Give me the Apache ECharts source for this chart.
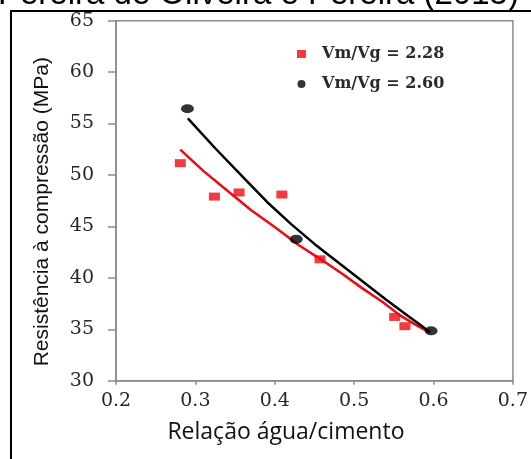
<!DOCTYPE html>
<html>
<head>
<meta charset="utf-8">
<script src="https://cdn.jsdelivr.net/npm/echarts@6/dist/echarts.min.js"></script>
<style>
html,body{margin:0;padding:0;background:#fff;}
#chart{width:531px;height:459px;}
</style>
</head>
<body>
<div id="chart"></div>
<script>
// ---- data ----
var titleText = 'Pereira de Oliveira e Pereira (2015)';
var xAxisTitle = 'Relação água/cimento';
var yAxisTitle = 'Resistência à compressão (MPa)';
var seriesNames = ['Vm/Vg = 2.28', 'Vm/Vg = 2.60'];

var redX = [0.281, 0.324, 0.355, 0.409, 0.457, 0.551, 0.564];
var redY = [51.15, 47.9, 48.3, 48.1, 41.8, 36.2, 35.3];

var blackX = [0.290, 0.427, 0.597];
var blackY = [56.45, 43.75, 34.85];

// fitted trend curves
var redFitX = [0.281, 0.310, 0.340, 0.370, 0.4025, 0.430, 0.458, 0.485, 0.510, 0.535, 0.557, 0.576, 0.595];
var redFitY = [52.46, 50.4, 48.5, 46.6, 44.8, 43.2, 41.8, 40.4, 39.0, 37.7, 36.4, 35.5, 34.7];
var blackFitX = [0.2905, 0.325, 0.360, 0.390, 0.421, 0.450, 0.480, 0.510, 0.540, 0.568, 0.596];
var blackFitY = [55.5, 52.6, 49.8, 47.4, 45.2, 43.3, 41.5, 39.7, 37.9, 36.3, 34.7];

var xTicks = [0.2, 0.3, 0.4, 0.5, 0.6, 0.7];
var yTicks = [30, 35, 40, 45, 50, 55, 60, 65];

function zip(a, b) { return a.map(function (v, i) { return [v, b[i]]; }); }

var RED = '#ee0a10';
var serif = '"DejaVu Serif", "Liberation Serif", serif';

var chart = echarts.init(document.getElementById('chart'), null, {renderer: 'canvas'});
chart.setOption({
  animation: false,
  backgroundColor: '#fff',
  grid: {left: 116, right: 10, top: 20.7, bottom: 78.3, show: true, borderColor: '#8c8c8c', borderWidth: 1.5},
  graphic: [
    {type: 'rect', shape: {x: 11, y: 11, width: 560, height: 480},
     style: {fill: null, stroke: '#000', lineWidth: 2}, z: 100},
    {type: 'text', x: -2, y: -5,
     style: {text: titleText, font: '33px "Liberation Sans", Arial, sans-serif', fill: '#000',
             textVerticalAlign: 'middle', textAlign: 'left'}, z: 100}
  ],
  legend: {
    orient: 'vertical', left: 292, top: 41, itemGap: 14,
    itemWidth: 9, itemHeight: 8,
    textStyle: {fontFamily: serif, fontWeight: 'bold', fontSize: 16, color: '#2a2a2a', padding: [0, 0, 0, 11]},
    data: [
      {name: seriesNames[0], icon: 'rect'},
      {name: seriesNames[1], icon: 'circle'}
    ]
  },
  xAxis: {
    type: 'value', min: xTicks[0], max: xTicks[xTicks.length - 1], interval: 0.1,
    name: xAxisTitle, nameLocation: 'middle', nameGap: 40,
    nameTextStyle: {fontFamily: '"Open Sans", sans-serif', fontSize: 23, color: '#111', padding: [0, 57, 0, 0]},
    axisLine: {show: true, lineStyle: {color: '#8c8c8c', width: 1.5}},
    axisTick: {show: true, inside: false, length: 4, lineStyle: {color: '#8c8c8c', width: 1.5}},
    axisLabel: {margin: 11, fontFamily: serif, fontSize: 19, color: '#262626',
                formatter: function (v) { return v.toFixed(1); }},
    splitLine: {show: false}
  },
  yAxis: {
    type: 'value', min: yTicks[0], max: yTicks[yTicks.length - 1], interval: 5,
    name: yAxisTitle, nameLocation: 'middle', nameGap: 63,
    nameTextStyle: {fontFamily: '"Liberation Sans", Arial, sans-serif', fontSize: 21, color: '#111', padding: [0, 22, 0, 0]},
    axisLine: {show: true, lineStyle: {color: '#8c8c8c', width: 1.5}},
    axisTick: {show: true, inside: false, length: 8, lineStyle: {color: '#8c8c8c', width: 1.5}},
    axisLabel: {margin: 22, fontFamily: serif, fontSize: 19, color: '#262626'},
    splitLine: {show: false}
  },
  series: [
    {name: 'fit228', type: 'line', data: zip(redFitX, redFitY), smooth: false, symbol: 'none',
     lineStyle: {color: RED, width: 2.5}, z: 2},
    {name: 'fit260', type: 'line', data: zip(blackFitX, blackFitY), smooth: false, symbol: 'none',
     lineStyle: {color: '#000', width: 2.5}, z: 2},
    {name: seriesNames[0], type: 'scatter', data: zip(redX, redY), symbol: 'rect', symbolSize: [11, 8],
     itemStyle: {color: RED}, z: 3},
    {name: seriesNames[1], type: 'scatter', data: zip(blackX, blackY), symbol: 'circle', symbolSize: [13, 9],
     itemStyle: {color: '#000'}, z: 3}
  ]
});
</script>
</body>
</html>
